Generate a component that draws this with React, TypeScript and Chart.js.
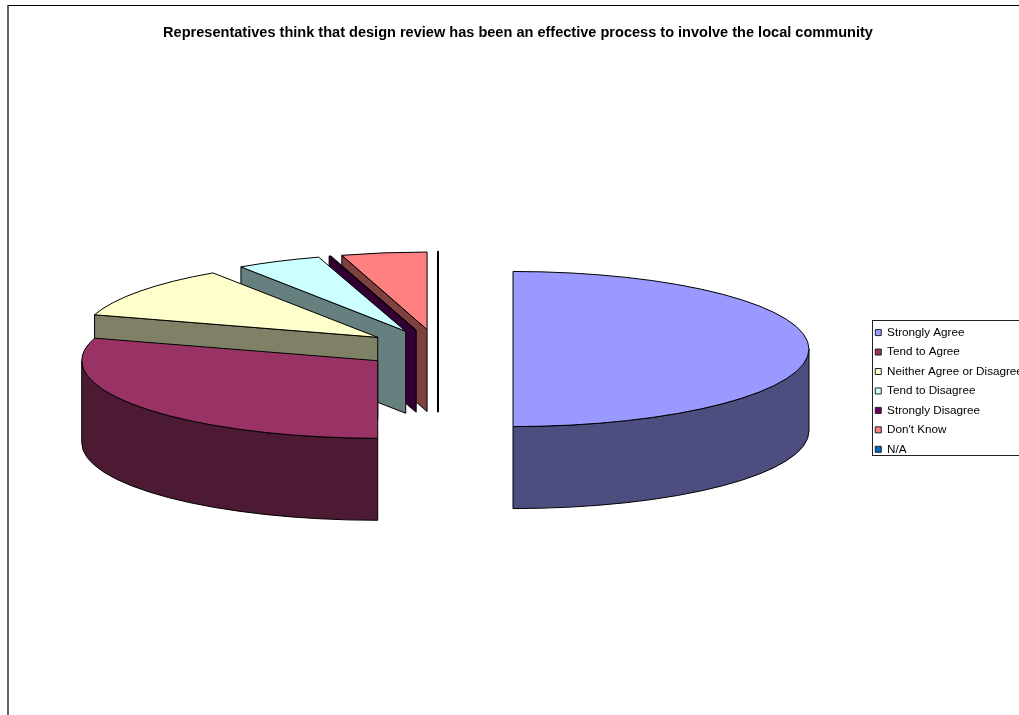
import React, { useEffect, useRef } from "react";
import { Chart, registerables } from "chart.js";

Chart.register(...registerables);

const titleText =
  "Representatives think that design review has been an effective process to involve the local community";

const categories = [
  "Strongly Agree",
  "Tend to Agree",
  "Neither Agree or Disagree",
  "Tend to Disagree",
  "Strongly Disagree",
  "Don't Know",
  "N/A",
];
const shares = [50, 29.7, 10.9, 4.65, 0.1, 4.65, 0];
const topColors = ["#9999FF", "#993366", "#FFFFCC", "#CCFFFF", "#660066", "#FF8080", "#0066CC"];
const wallColors = ["#4D4D80", "#4D1A33", "#808066", "#668080", "#330033", "#804040", "#003366"];

// Pie geometry: tilt flattens the disc, depth extrudes it, explode pulls slices from the centre.
const tilt = 0.262;
const depth = 82;
const explode = 75;
const outerRadius = 296;
const outlineColor = "#000000";

const pie3d = {
  id: "pie3d",
  afterLayout(chart: any) {
    // Legend and title sit at fixed spots rather than where the box layout puts them.
    const legend = chart.legend;
    legend.left = 867.5;
    legend.right = legend.left + 170;
    legend.top = 319;
    legend.bottom = 470;
    chart.titleBlock.left = 0;
    chart.titleBlock.right = 1036;
  },
  beforeDraw(chart: any) {
    const { ctx } = chart;
    ctx.save();
    ctx.fillStyle = "#ffffff";
    ctx.fillRect(0, 0, chart.width, chart.height);
    ctx.strokeStyle = "#000000";
    ctx.lineWidth = 1.2;
    ctx.beginPath();
    ctx.moveTo(8, chart.height + 2);
    ctx.lineTo(8, 5.5);
    ctx.lineTo(chart.width + 2, 5.5);
    ctx.stroke();
    ctx.lineWidth = 1;
    ctx.strokeStyle = "#222222";
    ctx.strokeRect(872.5, 320.5, 200, 135);
    ctx.restore();
  },
  beforeDatasetsDraw(chart: any) {
    const { ctx } = chart;
    const arcs = chart.getDatasetMeta(0).data;
    // Painted back to front: the last slices lie behind the earlier ones.
    for (let i = arcs.length - 1; i >= 0; i--) {
      const arc = arcs[i];
      const { x, y, startAngle, endAngle, outerRadius: r } = arc.getProps([
        "x",
        "y",
        "startAngle",
        "endAngle",
        "outerRadius",
      ]);
      const mid = (startAngle + endAngle) / 2;
      const ox = x + Math.cos(mid) * explode;
      const oy = y + Math.sin(mid) * explode * tilt;
      const ry = r * tilt;

      ctx.save();
      ctx.lineJoin = "round";
      ctx.strokeStyle = outlineColor;
      ctx.fillStyle = wallColors[i];
      ctx.lineWidth = 1;

      const face = (angle: number) => {
        const tx = ox + Math.cos(angle) * r;
        const ty = oy + Math.sin(angle) * ry;
        ctx.beginPath();
        ctx.moveTo(ox, oy);
        ctx.lineTo(tx, ty);
        ctx.lineTo(tx, ty + depth);
        ctx.lineTo(ox, oy + depth);
        ctx.closePath();
        ctx.fill();
        ctx.stroke();
      };

      if (endAngle - startAngle === 0) {
        // An empty slice still shows as its extruded cut edge.
        ctx.lineWidth = 2;
        face(startAngle);
      } else {
        // Cut faces turned towards the viewer.
        if (Math.cos(startAngle) < -1e-6) face(startAngle);
        if (Math.cos(endAngle) > 1e-6) face(endAngle);

        // Rim of the disc: only the part in the front half is visible.
        const from = Math.max(startAngle, 0);
        const to = Math.min(endAngle, Math.PI);
        if (to > from) {
          ctx.beginPath();
          ctx.ellipse(ox, oy, r, ry, 0, from, to);
          ctx.ellipse(ox, oy + depth, r, ry, 0, to, from, true);
          ctx.closePath();
          ctx.fill();
          ctx.stroke();
        }

        // Top of the slice, filled by the arc element under a flattening transform.
        ctx.save();
        ctx.translate(ox, oy);
        ctx.scale(1, tilt);
        ctx.translate(-x, -y);
        arc.draw(ctx);
        ctx.restore();

        ctx.beginPath();
        ctx.moveTo(ox, oy);
        ctx.ellipse(ox, oy, r, ry, 0, startAngle, endAngle);
        ctx.closePath();
        ctx.stroke();
      }
      ctx.restore();
    }
    return false;
  },
};

export default function App() {
  const ref = useRef<HTMLCanvasElement>(null);
  useEffect(() => {
    const chart = new Chart(ref.current!, {
      type: "pie",
      data: {
        labels: categories,
        datasets: [
          {
            data: shares,
            backgroundColor: topColors,
            borderColor: outlineColor,
            borderWidth: 0,
          },
        ],
      },
      options: {
        animation: false,
        responsive: false,
        radius: outerRadius,
        layout: { padding: { left: 4, bottom: 67 } },
        plugins: {
          title: {
            display: true,
            text: titleText,
            color: "#000000",
            font: { family: "Liberation Sans", size: 14.55, weight: "bold" },
            padding: { top: 24.3, bottom: 8.3 },
          },
          tooltip: { enabled: false },
          legend: {
            position: "right",
            align: "start",
            maxWidth: 147,
            labels: {
              color: "#000000",
              boxWidth: 6,
              boxHeight: 6,
              padding: 7.75,
              font: { family: "Liberation Sans", size: 11.7 },
              generateLabels(c: any) {
                return Chart.overrides.pie.plugins.legend.labels
                  .generateLabels(c)
                  .map((item: any) => ({ ...item, lineWidth: 1, strokeStyle: "#222222", hidden: false }));
              },
            },
          },
        },
      },
      plugins: [pie3d],
    } as any);
    return () => chart.destroy();
  }, []);
  return (
    <canvas
      ref={ref}
      width={1019}
      height={715}
      style={{ position: "absolute", left: 0, top: 0, display: "block" }}
    />
  );
}
